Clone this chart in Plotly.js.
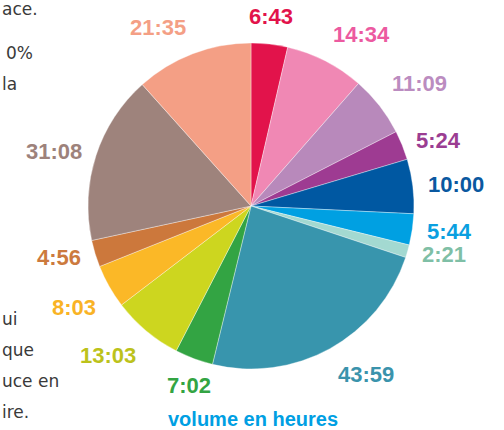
<!DOCTYPE html>
<html>
<head>
<meta charset="utf-8">
<script src="https://cdn.plot.ly/plotly-3.0.1.min.js"></script>
<style>html,body{margin:0;padding:0;background:#fff;}#chart{width:504px;height:430px;}</style>
</head>
<body>
<div id="chart"></div>
<script>
// Durations (h:mm) per slice, clockwise from 12 o'clock
const labels = ['6:43','14:34','11:09','5:24','10:00','5:44','2:21','43:59','7:02','13:03','8:03','4:56','31:08','21:35'];
const minutes = [403, 874, 669, 324, 600, 344, 141, 2639, 422, 783, 483, 296, 1868, 1295];
const sliceColors = ['#e2134b','#f088b4','#b889bb','#9e3b92','#0058a2','#00a0e2','#a3d9d1','#3895ad','#33a443','#cdd61f','#fbb827','#cc783c','#9e837c','#f49f85'];
const labelColors = ['#e2134b','#ec5aa0','#bb8cc0','#9b3d92','#0a58a0','#0a9fe0','#7fbfa6','#3a93ac','#33a443','#bcc21b','#f9b325','#cc7a3e','#9d827b','#f49f85'];
const caption = 'volume en heures';
// fragments of the adjoining text column (cut by the frame)
const sideText = ['ace.','0%','la','ui','que','uce en','ire.'];

const W = 504, H = 430;
const M = {l: 88, r: 90, t: 43, b: 61};
const PW = W - M.l - M.r, PH = H - M.t - M.b;
const R = Math.min(PW, PH) / 2;
const CX = M.l + PW / 2, CY = M.t + PH / 2;
const px = x => (x - M.l) / PW;
const py = y => 1 - (y - M.t) / PH;

const total = minutes.reduce((a, b) => a + b, 0);
const annotations = [];
let cum = 0;
minutes.forEach((v, i) => {
  const mid = (cum + v / 2) / total * 2 * Math.PI;
  cum += v;
  const s = Math.sin(mid), c = Math.cos(mid);
  const rr = R + 13;
  const x = CX + rr * s, y = CY - rr * c;
  const thr = c > 0 ? 0.3 : 0.45;
  const xa = s > thr ? 'left' : (s < -thr ? 'right' : 'center');
  const ya = c > 0.4 ? 'bottom' : (c < -0.4 ? 'top' : 'middle');
  annotations.push({
    xref: 'paper', yref: 'paper', x: px(x), y: py(y),
    xanchor: xa, yanchor: ya, showarrow: false,
    text: labels[i],
    font: {family: 'Liberation Sans, Arial, sans-serif', size: 22, color: labelColors[i], weight: 700}
  });
});

annotations.push({
  xref: 'paper', yref: 'paper', x: px(253), y: py(419),
  xanchor: 'center', yanchor: 'middle', showarrow: false,
  text: caption,
  font: {family: 'Liberation Sans, Arial, sans-serif', size: 20, color: '#009fe3', weight: 700}
});

const sidePos = [[0, 15], [4, 59], [0, 90], [0, 325], [0, 356], [0, 387], [0, 418]];
sideText.forEach((t, i) => {
  annotations.push({
    xref: 'paper', yref: 'paper', x: px(sidePos[i][0]), y: py(sidePos[i][1] - 6),
    xanchor: 'left', yanchor: 'middle', showarrow: false,
    text: t,
    font: {family: 'DejaVu Sans, sans-serif', size: 17, color: '#3a3a3a'}
  });
});

const trace = {
  type: 'pie',
  values: minutes,
  labels: labels,
  marker: {colors: sliceColors, line: {color: 'rgba(255,255,255,0.6)', width: 0.6}},
  sort: false,
  direction: 'clockwise',
  rotation: 0,
  textinfo: 'none',
  hoverinfo: 'skip',
  showlegend: false
};

const layout = {
  width: W, height: H,
  margin: M,
  paper_bgcolor: '#ffffff',
  plot_bgcolor: '#ffffff',
  showlegend: false,
  annotations: annotations
};

Plotly.newPlot('chart', [trace], layout, {displayModeBar: false, staticPlot: true});
</script>
</body>
</html>
